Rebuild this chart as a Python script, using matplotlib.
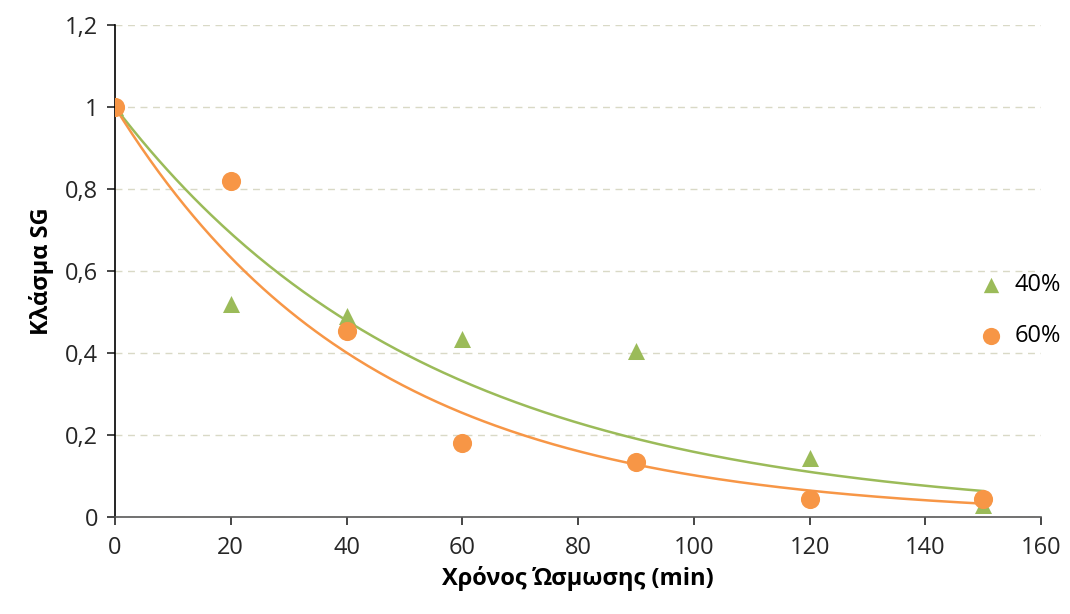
import numpy as np
import matplotlib
matplotlib.use("Agg")
import matplotlib.pyplot as plt
from matplotlib.ticker import FuncFormatter, MultipleLocator

# Osmosis time (min) and SG fraction for two concentrations
time_min = [0, 20, 40, 60, 90, 120, 150]
sg_40 = [1.0, 0.52, 0.49, 0.435, 0.405, 0.145, 0.03]
sg_60 = [1.0, 0.82, 0.455, 0.18, 0.135, 0.045, 0.045]

green = "#9BBB59"
orange = "#F79646"

plt.rcParams['font.family'] = ['Open Sans', 'DejaVu Sans']


def exp_fit(x, y):
    # fit y = exp(-k x) via least squares on ln(y)
    x = np.asarray(x, float)
    ly = np.log(np.asarray(y, float))
    k = -np.sum(x * ly) / np.sum(x * x)
    return k


fig = plt.figure(figsize=(10.7, 6.14), dpi=100)
ax = fig.add_axes([0.1075, 0.158, 0.8655, 0.801])

xs = np.linspace(0, 150, 300)
k40 = exp_fit(time_min, sg_40)
k60 = exp_fit(time_min, sg_60)
ax.plot(xs, np.exp(-k40 * xs), color=green, lw=1.8, zorder=2)
ax.plot(xs, np.exp(-k60 * xs), color=orange, lw=1.8, zorder=2)

ax.scatter(time_min, sg_40, marker="^", s=150, color=green, label="40%",
           zorder=3, linewidths=0)
ax.scatter(time_min, sg_60, marker="o", s=190, color=orange, label="60%",
           zorder=4, linewidths=0)

ax.set_xlim(0, 160)
ax.set_ylim(0, 1.2)
ax.xaxis.set_major_locator(MultipleLocator(20))
ax.yaxis.set_major_locator(MultipleLocator(0.2))
ax.yaxis.set_major_formatter(FuncFormatter(lambda v, p: f"{v:.1f}".rstrip("0").rstrip(".").replace(".", ",")))

ax.grid(axis="y", color="#D9D9C6", linestyle=(0, (5, 4)), lw=1)
ax.set_axisbelow(True)
for s in ["top", "right"]:
    ax.spines[s].set_visible(False)
ax.spines["left"].set_color("black")
ax.spines["bottom"].set_color("#595959")
ax.spines["left"].set_linewidth(1.2)
ax.spines["bottom"].set_linewidth(1.2)
ax.tick_params(axis="both", labelsize=17, length=6, width=1.2, colors="#262626")
ax.tick_params(axis="x", pad=8)
ax.tick_params(axis="y", pad=6)

ax.set_xlabel("Χρόνος Ώσμωσης (min)", fontsize=17, fontweight="bold", labelpad=4)
ax.set_ylabel("Κλάσμα SG", fontsize=17, fontweight="bold", labelpad=8)

ax.legend(loc="center left", bbox_to_anchor=(0.92, 0.42), frameon=False,
          fontsize=17, handletextpad=0.0, labelspacing=1.15, markerscale=0.9,
          borderaxespad=0, borderpad=0)

fig.savefig("out.png", dpi=100)
